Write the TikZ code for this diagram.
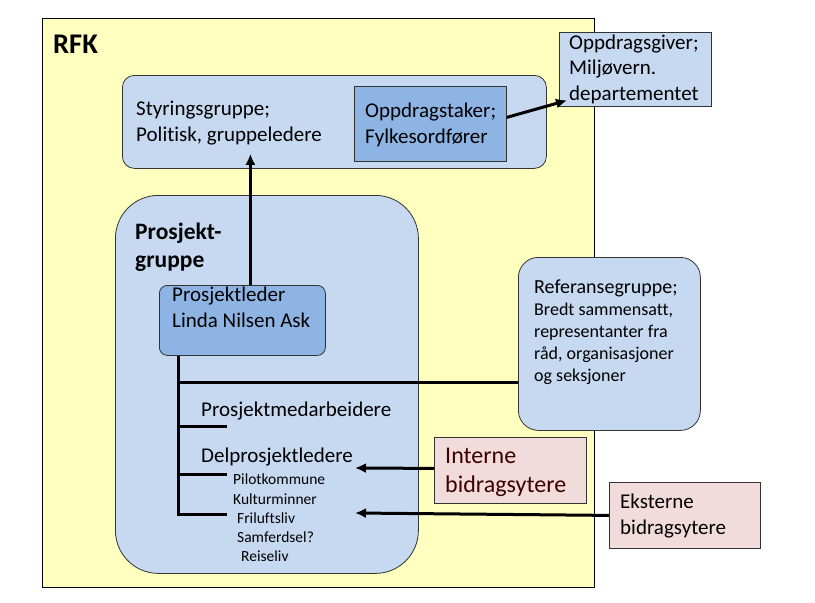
\documentclass[tikz,border=0pt]{standalone}
\usepackage{fontspec}
\setmainfont[Ligatures=NoCommon]{Carlito}
\usetikzlibrary{arrows.meta}
\definecolor{rfkgul}{RGB}{255,255,192}
\definecolor{lysblaa}{RGB}{198,217,241}
\definecolor{mellomblaa}{RGB}{142,180,227}
\definecolor{lysrosa}{RGB}{242,220,219}
\definecolor{bidragrod}{RGB}{60,0,0}
\newcommand{\txtn}{\fontsize{21}{25.5}\selectfont}
\newcommand{\txtref}{\fontsize{18}{21.7}\selectfont}
\newcommand{\txts}{\fontsize{15.5}{19}\selectfont}
\begin{document}
\begin{tikzpicture}[x=1pt,y=-1pt,
    boks/.style={draw=black!80,line width=0.8pt,inner sep=0pt,anchor=north west},
    tekst/.style={anchor=base west,align=left,inner sep=0pt,font=\txtn},
    linje/.style={line width=3pt},
    pil/.style={line width=3pt,-{Latex[length=11pt,width=10pt]}}]
  \useasboundingbox (0,0) rectangle (815,603);
  % RFK (tekstnoder: base = siste linje)
  \node[boks,draw=black,fill=rfkgul,minimum width=552pt,minimum height=569pt] (rfk) at (42,18) {};
  \node[tekst,font=\bfseries\fontsize{28.5}{30}\selectfont] (rfktekst) at (53,53) {RFK};
  % styringsgruppe og oppdrag
  \node[boks,fill=lysblaa,rounded corners=12pt,minimum width=424pt,minimum height=93pt] (styr) at (122,75) {};
  \node[tekst] (styrtekst) at (136,141) {Styringsgruppe;\\Politisk, gruppeledere};
  \node[boks,fill=mellomblaa,minimum width=152pt,minimum height=75pt] (taker) at (354,86) {};
  \node[tekst,font=\fontsize{21}{26}\selectfont] (takertekst) at (365,143) {Oppdragstaker;\\Fylkesordfører};
  \node[boks,fill=lysblaa,minimum width=152pt,minimum height=74pt] (giver) at (559,32) {};
  \node[tekst] (givertekst) at (569,100) {Oppdragsgiver;\\Miljøvern.\\departementet};
  \draw[pil] ([yshift=6.5pt]taker.east) -- ([shift={(8pt,-31pt)}]giver.west);
  % prosjektgruppe
  \node[boks,fill=lysblaa,rounded corners=43pt,minimum width=303pt,minimum height=378pt] (prosjekt) at (115,195) {};
  \node[tekst,font=\bfseries\fontsize{23.5}{28}\selectfont] (prosjekttekst) at (135,267) {Prosjekt-\\gruppe};
  \node[boks,fill=mellomblaa,rounded corners=8pt,minimum width=166pt,minimum height=70pt] (leder) at (159,285) {};
  \node[tekst,font=\fontsize{21}{26}\selectfont] (ledertekst) at (172,327) {Prosjektleder\\Linda Nilsen Ask};
  \draw[pil] ([xshift=8pt]leder.north) -- ([xshift=8pt,yshift=15pt]leder.north |- styr.south);
  % referansegruppe
  \node[boks,fill=lysblaa,rounded corners=20pt,minimum width=182pt,minimum height=173pt] (ref) at (518,257) {};
  \node[tekst,font=\fontsize{20}{24}\selectfont] (reftittel) at (534,293) {Referansegruppe;};
  \node[tekst,font=\txtref] (reftekst) at (534,381) {Bredt sammensatt,\\representanter fra\\råd, organisasjoner\\og seksjoner};
  % bidragsytere
  \node[boks,fill=lysrosa,minimum width=152pt,minimum height=66pt] (intern) at (434,437) {};
  \node[tekst,text=bidragrod,font=\fontsize{24}{29}\selectfont] (interntekst) at (445,492) {Interne\\bidragsytere};
  \node[boks,fill=lysrosa,minimum width=151pt,minimum height=66pt] (ekstern) at (609,482) {};
  \node[tekst,font=\fontsize{21}{26}\selectfont] (eksterntekst) at (620,534) {Eksterne\\bidragsytere};
  % organisasjonslinjer
  \coordinate (stamme) at ([xshift=19pt]leder.south west);
  \coordinate (refgren) at (178,382);
  \coordinate (medarb) at (227,426);
  \coordinate (delpro) at (227,474);
  \coordinate (tema) at (227,514);
  \draw[linje] (stamme) |- (tema);
  \draw[linje] (refgren) -- (refgren -| ref.west);
  \draw[linje] (stamme |- medarb) -- (medarb);
  \draw[linje] (stamme |- delpro) -- (delpro);
  \node[tekst] (medarbtekst) at (201,416) {Prosjektmedarbeidere};
  \node[tekst] (delprotekst) at (201,462) {Delprosjektledere};
  \node[tekst,font=\txts] (pilot) at (233,484) {Pilotkommune};
  \node[tekst,font=\txts] (kultur) at (233,504) {Kulturminner};
  \node[tekst,font=\txts] (friluft) at (237,523) {Friluftsliv};
  \node[tekst,font=\txts] (samferdsel) at (237,542) {Samferdsel?};
  \node[tekst,font=\txts] (reiseliv) at (241,561) {Reiseliv};
  \coordinate (internpil) at (355,468);
  \coordinate (eksternpil) at (355,513);
  \draw[pil] ([yshift=2pt]intern.west) -- (internpil);
  \draw[pil] (ekstern.west) -- (eksternpil);
\end{tikzpicture}
\end{document}
